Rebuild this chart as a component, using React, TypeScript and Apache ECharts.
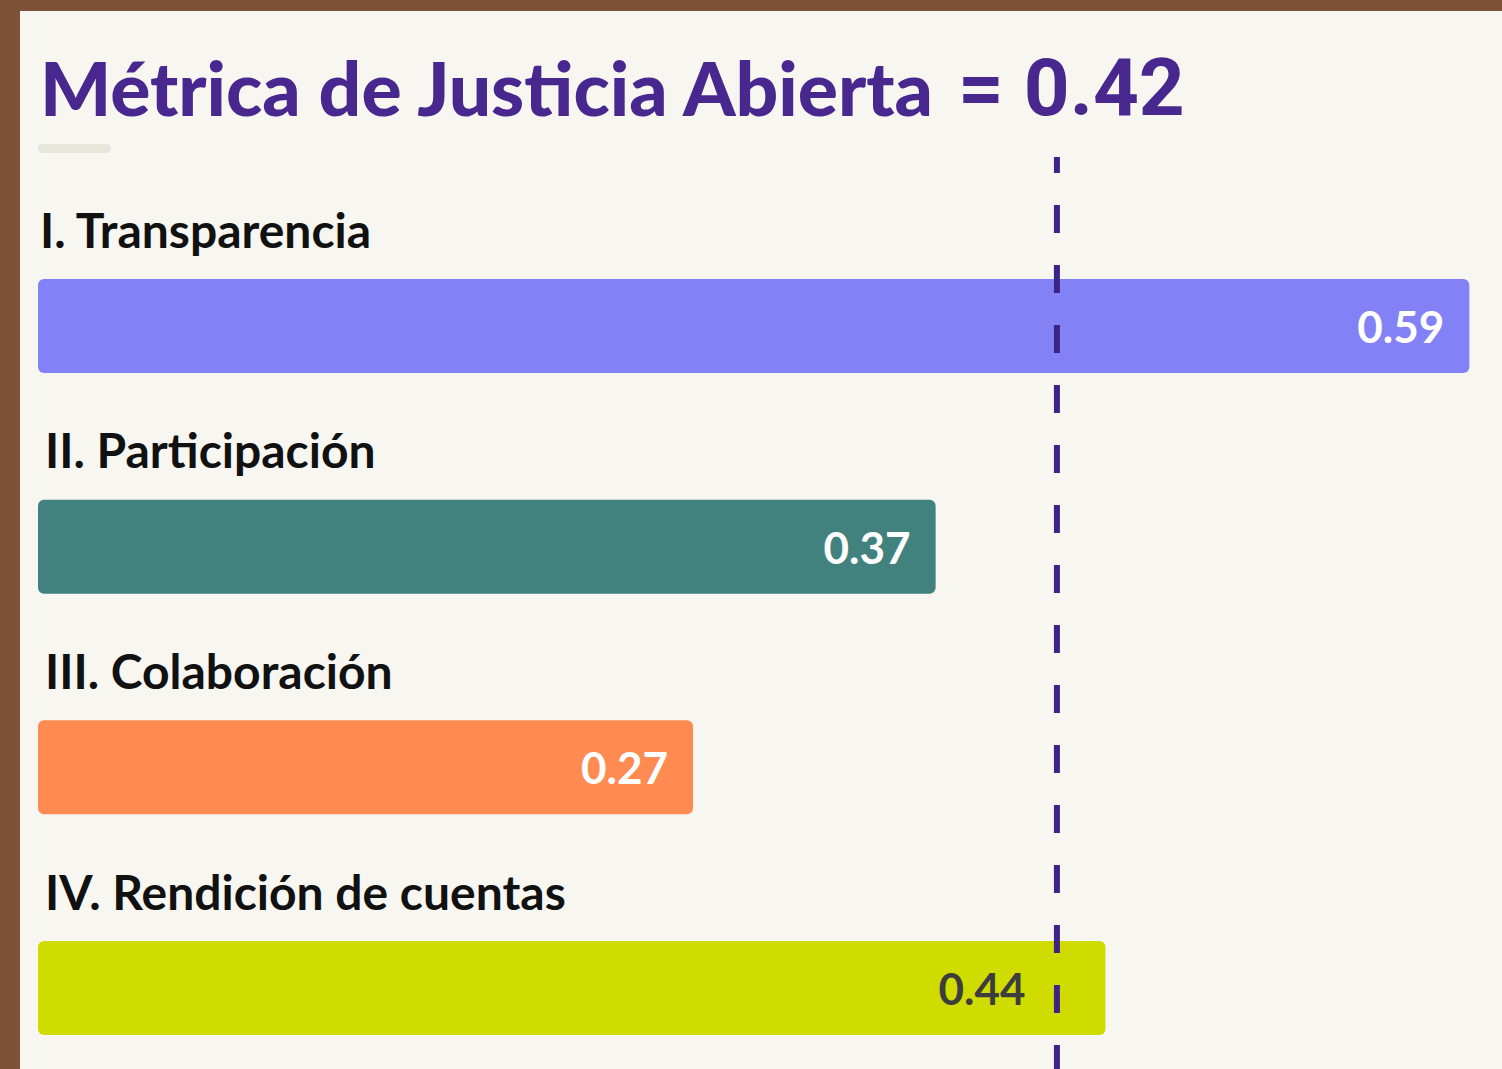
import React, { useEffect, useRef } from 'react';
import * as echarts from 'echarts';

const TITLE = 'Métrica de Justicia Abierta';
const METRIC = 0.42;
const CATEGORIES = ['I. Transparencia', 'II. Participación', 'III. Colaboración', 'IV. Rendición de cuentas'];
const VALUES = [0.59, 0.37, 0.27, 0.44];
const COLORS = ['#8281f6', '#41827f', '#ff8a52', '#d0dc00'];
const LABEL_COLORS = ['#ffffff', '#ffffff', '#ffffff', '#3d3d3d'];

const W = 1502;
const H = 1069;
const FONT = 'Lato, "Noto Sans", sans-serif';
const PX_PER_UNIT = 2426;

export default function App() {
  const ref = useRef<HTMLDivElement>(null);
  useEffect(() => {
    if (!ref.current) return;
    const chart = echarts.init(ref.current, undefined, { renderer: 'svg' });
    const baseGraphic = [
      { type: 'rect', z: -10, shape: { x: 20, y: 11, width: W, height: H }, style: { fill: '#f7f6f0' } },
      { type: 'rect', z: 1, shape: { x: 38, y: 144, width: 73, height: 9, r: 4.5 }, style: { fill: '#e6e6db' } },
      {
        type: 'text', z: 5, x: 40, y: 49,
        style: { text: TITLE, font: `900 75px ${FONT}`, fill: '#48288f', verticalAlign: 'top' },
      },
      {
        type: 'text', z: 5, x: 958, y: 48,
        style: { text: '= ' + METRIC.toFixed(2), font: `bold 80px Roboto, sans-serif`, fill: '#48288f', verticalAlign: 'top' },
      },
    ];
    const option: any = {
      animation: false,
      backgroundColor: '#7e5239',
      grid: { left: 38, top: 326, width: 0.6 * PX_PER_UNIT, height: 662, containLabel: false },
      xAxis: { type: 'value', min: 0, max: 0.6, show: false },
      yAxis: { type: 'category', data: CATEGORIES, inverse: true, show: false, boundaryGap: false },
      graphic: baseGraphic,
      series: [
        {
          type: 'bar',
          data: VALUES.map((v, i) => ({
            value: v,
            itemStyle: { color: COLORS[i] },
            label: { color: LABEL_COLORS[i], distance: i === 3 ? 80 : 25 },
          })),
          barWidth: 94,
          barGap: '-100%',
          z: 2,
          itemStyle: { borderRadius: 6 },
          label: {
            show: true,
            position: 'insideRight',
            fontFamily: FONT,
            fontSize: 44,
            fontWeight: 'bold',
            formatter: (p: any) => p.value.toFixed(2),
          },
        },
        {
          type: 'bar',
          data: VALUES.map((v, i) => ({ value: v, label: { position: [i === 0 ? 2 : 7, -50] } })),
          barWidth: 94,
          barGap: '-100%',
          silent: true,
          z: 3,
          itemStyle: { color: 'rgba(0,0,0,0)' },
          label: {
            show: true,
            verticalAlign: 'middle',
            align: 'left',
            color: '#111111',
            fontFamily: FONT,
            fontSize: 48,
            fontWeight: 'bold',
            formatter: (p: any) => CATEGORIES[p.dataIndex],
          },
        },
      ],
    };
    chart.setOption(option);
    const lx = chart.convertToPixel({ xAxisIndex: 0 }, METRIC) as number;
    chart.setOption({
      graphic: [
        ...baseGraphic,
        {
          type: 'line', z: 100,
          shape: { x1: lx, y1: 157, x2: lx, y2: H },
          style: { stroke: '#3e2386', lineWidth: 6, lineDash: [28, 32], lineDashOffset: 12 },
        },
      ],
    });
    return () => chart.dispose();
  }, []);
  return <div ref={ref} style={{ position: 'fixed', left: 0, top: 0, width: W, height: H }} />;
}
